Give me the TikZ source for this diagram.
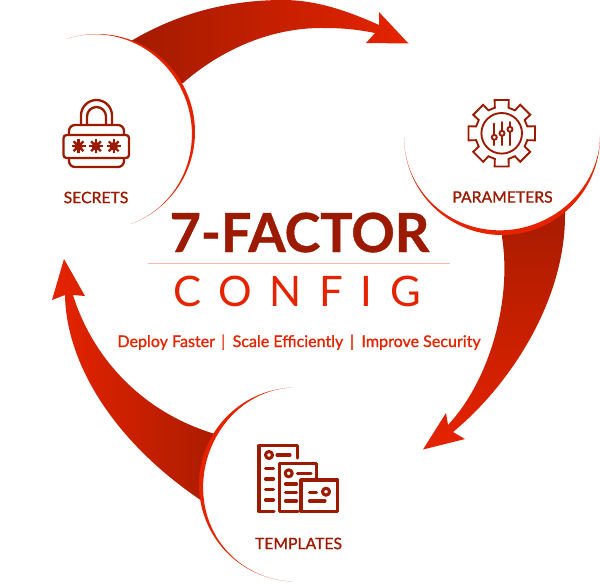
\documentclass[tikz,border=0pt]{standalone}
\usepackage{fontspec}
\setmainfont{Lato}
\definecolor{darkred}{HTML}{9B1A00}
\definecolor{arrowdark}{HTML}{A31B00}
\definecolor{brightred}{HTML}{E62300}
\definecolor{rulepink}{HTML}{F6B9AA}
\tikzset{
  declare function={cwid(\u,\k)=pow(sin(180*pow(\u+0.0001,\k)),2);},
  icon/.style={draw=darkred,line width=1.75pt,line join=round,line cap=round,fill=none},
  iconthin/.style={draw=darkred,line width=1.4pt,line join=miter,fill=none},
  label/.style={text=darkred,inner sep=0pt,font=\fontsize{11.8pt}{14pt}\selectfont\addfontfeature{FakeBold=1.1}},
  disc/.style={fill=white,draw=none},
  ring/.style={fill=brightred,draw=none},
  docline/.style={draw=darkred,line width=2.3pt,line join=round,line cap=round,fill=none},
}
\newcommand{\crescent}[7]{%
  \fill[ring] plot[domain=#4:#5,samples=90,smooth] ({#1+#3*cos(\x)},{#2+#3*sin(\x)})
    -- plot[domain=#5:#4,samples=90,smooth] ({#1+(#3-#6*cwid((\x-(#4))/((#5)-(#4)),#7))*cos(\x)},{#2+(#3-#6*cwid((\x-(#4))/((#5)-(#4)),#7))*sin(\x)}) -- cycle;}
\begin{document}
\begin{tikzpicture}[x=0.75pt,y=-0.75pt]
\useasboundingbox (0,0) rectangle (600,583);
% arrows
\shade[left color=arrowdark,right color=brightred]
  (131,41) .. controls (175,15) and (225,0) .. (283,0)
  .. controls (318,0) and (350,12) .. (379,25)
  -- (379,12) -- (408.5,43.5) -- (366,43) -- (375,33)
  .. controls (355,29) and (340,28) .. (325,28)
  .. controls (265,27) and (215,55) .. (183,83)
  -- (150,90) -- cycle;
\shade[top color=arrowdark,bottom color=brightred]
  (565,190) -- (565,213) .. controls (566,300) and (510,385) .. (453,432)
  -- (465,439) -- (423,449.5) -- (446,413) -- (448,425)
  .. controls (490,380) and (512,300) .. (502,237)
  -- (502,190) -- cycle;
\shade[left color=brightred,right color=arrowdark]
  (240,510) -- (205,503) .. controls (110,440) and (66,360) .. (65,295)
  -- (52,300) -- (64,259) -- (85,296) -- (73,295)
  .. controls (90,350) and (135,410) .. (215,434)
  -- (240,445) -- cycle;
% discs
\fill[disc] (97,132) circle[radius=97];
\fill[disc] (502,137) circle[radius=97];
\fill[disc] (296,484.5) circle[radius=96];
\crescent{97}{132}{98}{-108}{70}{3.5}{1}
\crescent{502}{137}{98}{0}{180}{5}{0.79}
\crescent{296}{484.5}{97}{92}{268}{4.5}{1.29}
% lock icon
\draw[icon] (81,124) -- (81,115.5) arc[start angle=180,end angle=360,radius=15.5] -- (112,124);
\draw[icon] (87,124) -- (87,116.5) arc[start angle=180,end angle=360,radius=9.5] -- (106,124);
\draw[icon] (69,135) -- (69,131) arc[start angle=180,end angle=270,radius=6] -- (118,125) arc[start angle=270,end angle=360,radius=6] -- (124,135);
\draw[icon] (66.5,135) -- (126,135) arc[start angle=270,end angle=360,radius=3] -- (129,155) arc[start angle=0,end angle=90,radius=3] -- (66.5,158) arc[start angle=90,end angle=180,radius=3] -- (63.5,138) arc[start angle=180,end angle=270,radius=3] -- cycle;
\draw[icon] (69,158) -- (69,161) arc[start angle=180,end angle=90,radius=6] -- (118,167) arc[start angle=90,end angle=0,radius=6] -- (124,158);
\foreach \cx in {78.5,96,113.7}{
  \foreach \ang in {0,45,90,135}{
    \draw[draw=darkred,line width=1.7pt] ({\cx+7*cos(\ang)},{146.3+7*sin(\ang)}) -- ({\cx-7*cos(\ang)},{146.3-7*sin(\ang)});
  }
  \fill[darkred] (\cx,146.3) circle[radius=4.3];
}
% gear icon
\def\gR{34}\def\gr{26.5}
\draw[iconthin] ({501.7+\gr*cos(-15)},{133.3+\gr*sin(-15)})
  \foreach \a in {0,45,...,315}{
    -- ({501.7+\gr*cos(\a-15)},{133.3+\gr*sin(\a-15)})
    -- ({501.7+\gR*cos(\a-12)},{133.3+\gR*sin(\a-12)})
    -- ({501.7+\gR*cos(\a+12)},{133.3+\gR*sin(\a+12)})
    -- ({501.7+\gr*cos(\a+15)},{133.3+\gr*sin(\a+15)})
  } -- cycle;
\draw[iconthin] (501.7,133.3) circle[radius=20.3];
\draw[icon,line width=1.5pt] (494.3,123.5) -- (494.3,145);
\draw[icon,line width=1.5pt] (502,122) -- (502,145);
\draw[icon,line width=1.5pt] (510,122) -- (510,145);
\draw[iconthin,fill=white] (494.3,137.3) circle[radius=2.5];
\draw[iconthin,fill=white] (502,133.3) circle[radius=2.5];
\draw[iconthin,fill=white] (510,129.3) circle[radius=2.5];
% templates icon
\draw[docline] (297.3,458) -- (297.3,445.7) -- (259,445.7) -- (259,511.7) -- (274,511.7);
\draw[docline] (269,455) circle[radius=3.5];
\draw[docline] (277,455) -- (290,455);
\foreach \yy in {468.3,479,489.3,500} \draw[docline] (265.5,\yy) -- (273.5,\yy);
\draw[docline] (316.7,478) -- (316.7,463.3) -- (279.3,463.3) -- (279.3,511.7) -- (298,511.7);
\draw[docline] (288.7,473.3) circle[radius=3.5];
\draw[docline] (297.3,473.3) -- (311,473.3);
\foreach \yy in {484,492.3,501} \draw[docline] (285.5,\yy) -- (296.5,\yy);
\draw[docline] (301,480) rectangle (337.7,511.7);
\draw[docline] (326,491.7) circle[radius=3.5];
\draw[docline] (309.5,492.3) -- (316.5,492.3);
\draw[docline] (309.5,501) -- (325,501);
% labels
\node[label] (secrets) at (96,197.5) {SECRETS};
\node[label] (parameters) at (502.5,197) {PARAMETERS};
\node[label] (templates) at (298.5,543.5) {TEMPLATES};
% centre text
\node[anchor=base,inner sep=0pt,text=darkred,font=\fontsize{40.4pt}{44pt}\selectfont\bfseries\addfontfeature{FakeBold=0.8}] (title) at (299.5,252) {7-FACTOR};
\coordinate (ruleL) at (148,263);
\coordinate (ruleR) at (450,263);
\draw[rulepink,line width=0.75pt] (ruleL) -- (ruleR);
\node[anchor=base west,inner sep=0pt,text=brightred,font=\fontsize{31.5pt}{34pt}\selectfont\addfontfeature{LetterSpace=42}] (config) at (173,306) {CONFIG};
\node[anchor=base,inner sep=0pt,text=brightred,font=\fontsize{12.05pt}{14pt}\selectfont\addfontfeature{FakeBold=1.1}] (tag) at (299,347) {Deploy Faster\hspace{4.6pt}|\hspace{5.6pt}Scale Efficiently\hspace{5pt}|\hspace{5.6pt}Improve Security};
\end{tikzpicture}
\end{document}
